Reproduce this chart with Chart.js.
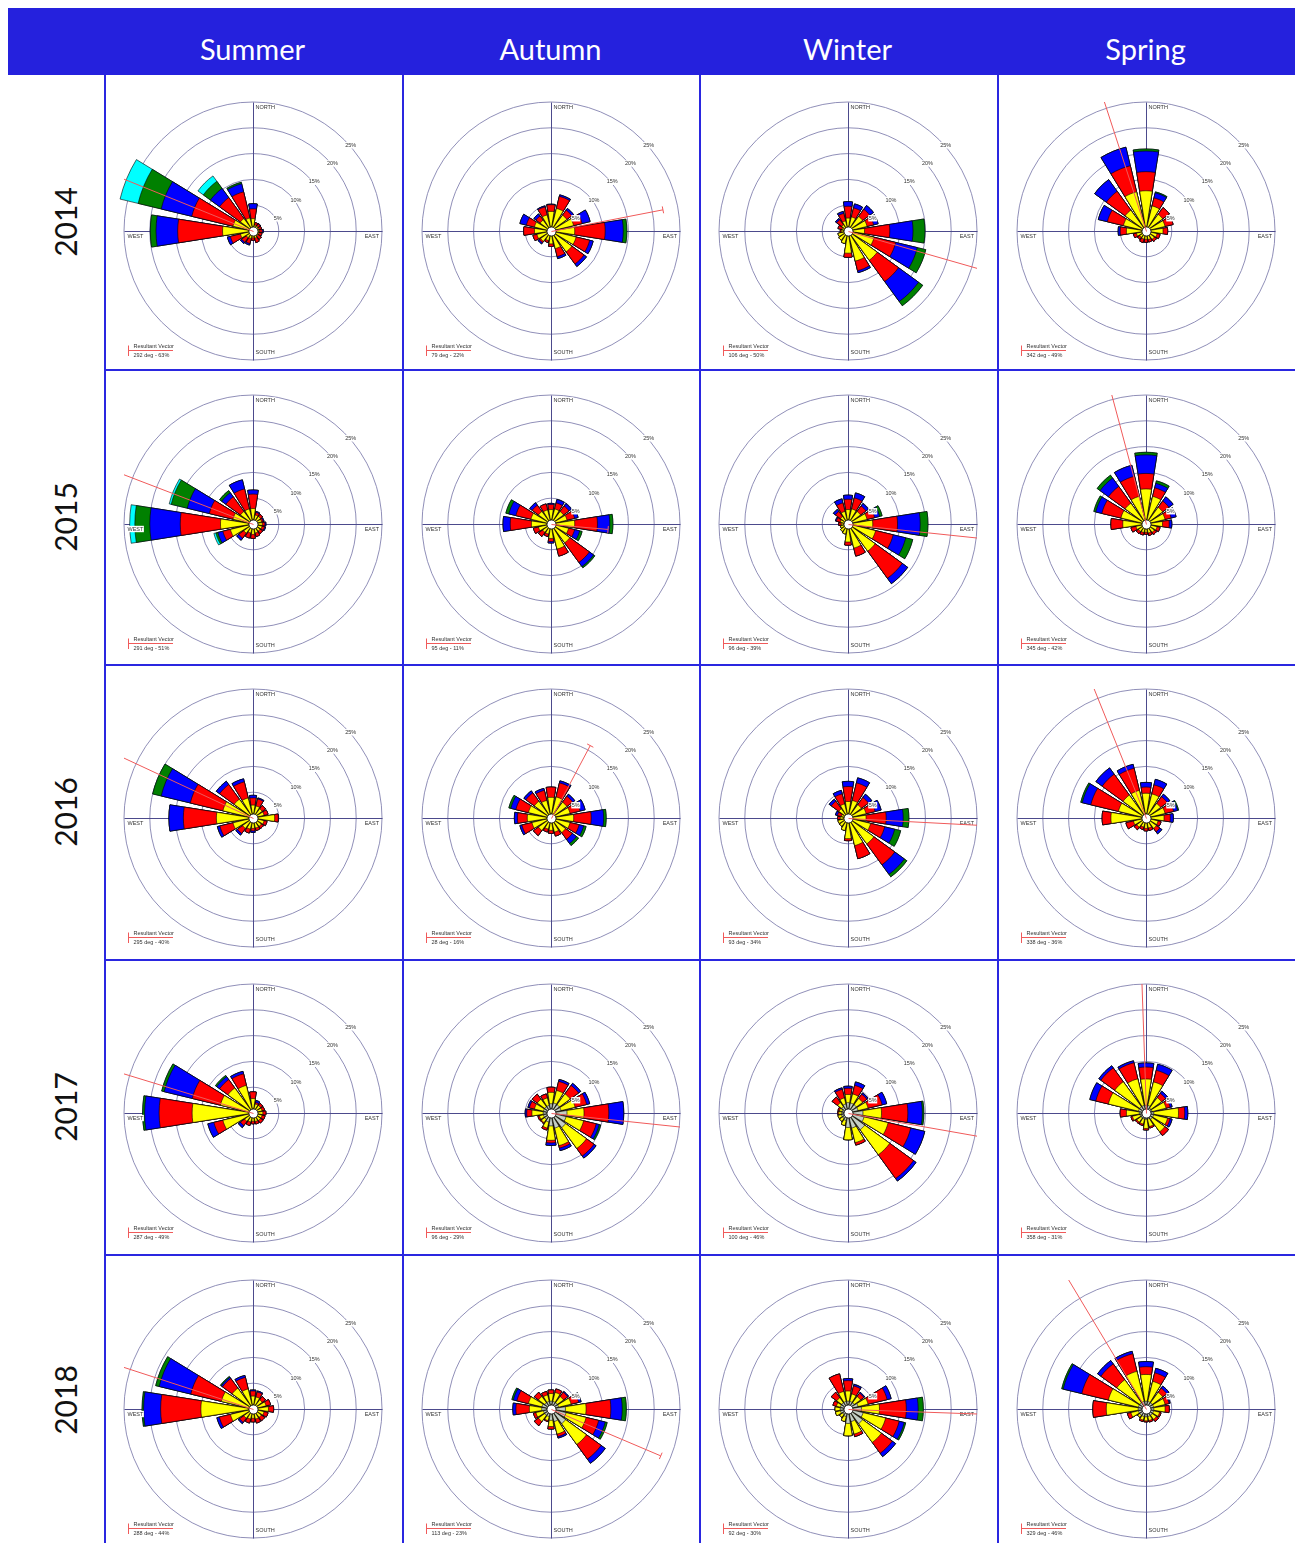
<!DOCTYPE html>
<html>
<head>
<meta charset="utf-8">
<script src="https://cdn.jsdelivr.net/npm/chart.js@4.4.1/dist/chart.umd.min.js"></script>
<style>
  body { margin: 0; background: #fff; width: 1295px; height: 1543px; overflow: hidden; position: relative; }
  .hdr { position: absolute; left: 8px; top: 8px; width: 1287px; height: 67px; background: #2521dd; }
  .season { position: absolute; top: 8px; height: 67px; line-height: 82px; width: 297px; text-align: center;
            color: #fff; font-family: Lato, "Open Sans", sans-serif; font-size: 29px; }
  .year { position: absolute; left: 15px; width: 100px; height: 40px; line-height: 40px; text-align: center;
          font-family: Lato, "Open Sans", sans-serif; font-size: 30px; color: #111; transform: rotate(-90deg); }
  .vline { position: absolute; width: 2px; background: #2a27e0; z-index: 5; }
  .hline { position: absolute; height: 2px; background: #2a27e0; z-index: 5; }
  canvas { position: absolute; }
</style>
</head>
<body>
<div class="hdr"></div>
<script>
const seasons = ["Summer", "Autumn", "Winter", "Spring"];
const years = ["2014", "2015", "2016", "2017", "2018"];
const directions = ["N", "NNE", "NE", "ENE", "E", "ESE", "SE", "SSE", "S", "SSW", "SW", "WSW", "W", "WNW", "NW", "NNW"];
const speedClasses = ["class 1", "class 2", "class 3", "class 4", "class 5", "class 6"];
const classColors = ["#c4cec4", "#ffff00", "#ff0000", "#0000ff", "#008000", "#00ffff"];

// frequency (%) by speed class (rows) and direction (columns)
const summer2014 = [
  [0, 0, 0, 0, 0, 0, 0, 0, 0, 0, 0, 0, 0, 0, 0, 0],
  [2.4, 1.2, 1.2, 1.2, 1.2, 1.2, 1.2, 1.4, 1.3, 1.5, 1.6, 2.5, 5.9, 4.0, 3.0, 2.6],
  [1.9, 0.5, 0.5, 0.5, 0.6, 0.6, 0.8, 0.9, 0.5, 1.0, 1.1, 2.0, 8.7, 8.2, 5.0, 5.2],
  [1.0, 0, 0.1, 0, 0.2, 0, 0, 0, 0, 0.3, 0.3, 0.6, 4.2, 6.1, 2.2, 1.6],
  [0, 0, 0, 0, 0, 0, 0, 0, 0, 0, 0, 0, 1.1, 4.6, 1.7, 0.3],
  [0, 0, 0, 0, 0, 0, 0, 0, 0, 0, 0, 0, 0, 3.6, 1.3, 0]
];
const autumn2014 = [
  [0, 0, 0, 0, 0, 0, 0, 0, 0, 0, 0, 0, 0, 0, 0, 0],
  [3.8, 4.5, 3.8, 4.5, 4.6, 5.0, 5.0, 3.5, 2.5, 1.9, 2.5, 2.8, 3.2, 3.3, 2.6, 3.2],
  [1.3, 2.4, 1.2, 1.7, 5.9, 2.7, 2.9, 1.6, 0.5, 0.4, 0.3, 0.8, 2.1, 1.6, 1.0, 1.6],
  [0.1, 0.3, 0.4, 1.6, 3.5, 0.7, 0.6, 0.4, 0, 0, 0.3, 0, 0, 1.3, 0.5, 0.2],
  [0, 0, 0, 0, 0.7, 0, 0, 0, 0, 0, 0, 0, 0, 0, 0, 0],
  [0, 0, 0, 0, 0, 0, 0, 0, 0, 0, 0, 0, 0, 0, 0, 0]
];
const winter2014 = [
  [0, 0, 0, 0, 0, 0, 0, 0, 0, 0, 0, 0, 0, 0, 0, 0],
  [2.5, 2.8, 3.5, 3.8, 3.2, 5.2, 7.0, 6.0, 4.3, 2.5, 2.2, 2.0, 1.3, 1.2, 1.5, 2.0],
  [2.3, 1.8, 1.7, 1.3, 4.9, 4.3, 5.1, 1.9, 0.8, 0, 0, 0, 0.2, 0.8, 1.2, 1.5],
  [0.9, 0.8, 0.9, 0.9, 4.5, 4.3, 4.8, 0.4, 0, 0, 0, 0, 0, 0, 0.3, 0.4],
  [0, 0, 0, 0, 2.3, 1.7, 1.0, 0, 0, 0, 0, 0, 0, 0, 0, 0],
  [0, 0, 0, 0, 0, 0, 0, 0, 0, 0, 0, 0, 0, 0, 0, 0]
];
const spring2014 = [
  [0, 0, 0, 0, 0, 0, 0, 0, 0, 0, 0, 0, 0, 0, 0, 0],
  [7.8, 5.0, 4.0, 3.8, 3.3, 2.2, 2.0, 1.7, 1.6, 1.6, 1.5, 1.9, 3.8, 4.5, 5.0, 7.8],
  [3.7, 1.6, 1.6, 1.6, 0.9, 0.6, 0.5, 0.5, 0.6, 0.7, 0.5, 0.6, 1.2, 3.2, 4.5, 5.2],
  [4.0, 1.0, 0, 0, 0, 0, 0, 0, 0, 0, 0, 0, 0.4, 1.8, 2.8, 3.7],
  [0.4, 0.2, 0, 0, 0, 0, 0, 0, 0, 0, 0, 0, 0, 0, 0, 0],
  [0, 0, 0, 0, 0, 0, 0, 0, 0, 0, 0, 0, 0, 0, 0, 0]
];
const summer2015 = [
  [0, 0, 0, 0, 0, 0, 0, 0, 0, 0, 0, 0, 0, 0, 0, 0],
  [3.0, 1.8, 1.8, 1.7, 1.8, 1.8, 1.7, 1.8, 2.0, 1.8, 2.2, 4.5, 6.3, 4.0, 3.0, 3.0],
  [2.8, 0.5, 0.5, 0.3, 0.5, 0.5, 0.6, 0.7, 0.8, 1.0, 1.2, 1.5, 7.8, 4.7, 3.5, 4.0],
  [0.8, 0.2, 0, 0.2, 0.2, 0.2, 0, 0, 0, 0, 0.5, 1.0, 5.9, 4.4, 1.0, 1.8],
  [0, 0, 0, 0, 0, 0, 0, 0, 0, 0, 0, 0.4, 2.9, 3.2, 0.5, 0],
  [0, 0, 0, 0, 0, 0, 0, 0, 0, 0, 0, 0.4, 1.0, 0.4, 0, 0]
];
const autumn2015 = [
  [0, 0, 0, 0, 0, 0, 0, 0, 0, 0, 0, 0, 0, 0, 0, 0],
  [2.8, 3.0, 3.0, 3.2, 4.6, 3.5, 4.5, 5.0, 2.8, 2.0, 2.0, 2.5, 3.8, 4.0, 3.0, 2.8],
  [1.0, 1.2, 1.3, 1.5, 4.4, 1.2, 4.7, 1.4, 0.6, 0.5, 1.0, 1.0, 4.1, 3.0, 1.5, 1.2],
  [0.2, 0.7, 0.6, 0.7, 2.4, 1.0, 1.0, 0, 0.3, 0, 0, 0, 1.4, 1.4, 0.6, 0],
  [0, 0, 0, 0, 0.6, 0.5, 0.3, 0, 0, 0, 0, 0, 0, 0.6, 0, 0],
  [0, 0, 0, 0, 0, 0, 0, 0, 0, 0, 0, 0, 0, 0, 0, 0]
];
const winter2015 = [
  [0, 0, 0, 0, 0, 0, 0, 0, 0, 0, 0, 0, 0, 0, 0, 0],
  [2.8, 3.0, 3.0, 3.8, 4.8, 5.5, 6.5, 4.8, 3.5, 2.0, 1.8, 1.5, 1.3, 1.5, 1.8, 2.5],
  [2.0, 2.2, 1.3, 1.5, 4.8, 3.5, 6.5, 1.6, 0.6, 0, 0, 0, 0.5, 0.8, 1.2, 1.7],
  [0.8, 1.0, 0.6, 1.0, 4.4, 2.5, 1.3, 0, 0, 0, 0, 0, 0, 0.2, 0.5, 0.8],
  [0, 0, 0, 0.5, 1.5, 1.4, 0, 0, 0, 0, 0, 0, 0, 0, 0, 0],
  [0, 0, 0, 0, 0, 0, 0, 0, 0, 0, 0, 0, 0, 0, 0, 0]
];
const spring2015 = [
  [0, 0, 0, 0, 0, 0, 0, 0, 0, 0, 0, 0, 0, 0, 0, 0],
  [6.8, 5.5, 4.0, 3.8, 3.2, 2.2, 2.0, 1.8, 1.6, 1.7, 1.8, 2.0, 4.5, 5.0, 5.0, 5.5],
  [3.0, 1.7, 1.5, 1.2, 1.3, 0.6, 0.5, 0.5, 0.4, 0.5, 0.5, 1.0, 2.3, 3.8, 4.0, 4.0],
  [3.6, 0.9, 1.0, 1.0, 0.5, 0, 0, 0, 0, 0, 0, 0, 0, 1.2, 2.0, 2.2],
  [0.5, 0.5, 0, 0, 0, 0, 0, 0, 0, 0, 0, 0, 0, 0.4, 0.7, 0],
  [0, 0, 0, 0, 0, 0, 0, 0, 0, 0, 0, 0, 0, 0, 0, 0]
];
const summer2016 = [
  [0, 0, 0, 0, 0, 0, 0, 0, 0, 0, 0, 0, 0, 0, 0, 0],
  [2.5, 2.4, 2.2, 2.2, 4.2, 2.2, 2.0, 2.0, 2.0, 2.2, 2.5, 4.0, 7.1, 6.0, 4.5, 4.0],
  [1.4, 1.4, 0.8, 0.8, 0.7, 0.6, 0.5, 0.5, 0.5, 0.8, 1.2, 2.6, 6.4, 6.5, 3.5, 3.2],
  [0.5, 0.2, 0, 0, 0, 0, 0, 0, 0.3, 0, 0.4, 0.5, 2.8, 5.8, 0.8, 0.6],
  [0, 0, 0, 0, 0, 0, 0, 0, 0, 0, 0, 0, 0, 1.7, 0, 0],
  [0, 0, 0, 0, 0, 0, 0, 0, 0, 0, 0, 0, 0, 0, 0, 0]
];
const autumn2016 = [
  [0, 0, 0, 0, 0, 0, 0, 0, 0, 0, 0, 0, 0, 0, 0, 0],
  [4.0, 4.2, 3.8, 3.8, 4.4, 3.8, 3.5, 2.8, 2.4, 2.2, 3.0, 3.8, 4.6, 4.5, 4.0, 3.5],
  [2.0, 2.8, 1.4, 2.0, 3.4, 1.8, 1.6, 0.8, 0.6, 0.6, 1.2, 2.0, 1.9, 2.5, 2.0, 2.0],
  [0, 0.4, 0.5, 1.0, 2.4, 0.9, 1.0, 0, 0, 0, 0, 0.4, 0.6, 1.0, 0.5, 0.4],
  [0, 0, 0, 0, 0.5, 0.5, 0.5, 0, 0, 0, 0, 0, 0, 0.4, 0, 0],
  [0, 0, 0, 0, 0, 0, 0, 0, 0, 0, 0, 0, 0, 0, 0, 0]
];
const winter2016 = [
  [0, 0, 0, 0, 0, 0, 0, 0, 0, 0, 0, 0, 0, 0, 0, 0],
  [3.2, 3.5, 3.2, 3.6, 3.5, 4.5, 6.2, 5.5, 4.0, 2.5, 2.0, 2.0, 1.5, 1.3, 2.2, 2.8],
  [2.9, 3.5, 1.7, 1.8, 3.9, 2.8, 5.0, 2.6, 0.4, 0, 0, 0, 0.5, 0.8, 1.8, 2.0],
  [1.0, 1.0, 0.8, 1.2, 3.3, 2.0, 2.3, 0, 0, 0, 0, 0, 0, 0.4, 0.5, 0.7],
  [0, 0, 0, 0, 1.1, 1.2, 0.6, 0, 0, 0, 0, 0, 0, 0, 0, 0],
  [0, 0, 0, 0, 0, 0, 0, 0, 0, 0, 0, 0, 0, 0, 0, 0]
];
const spring2016 = [
  [0, 0, 0, 0, 0, 0, 0, 0, 0, 0, 0, 0, 0, 0, 0, 0],
  [4.8, 4.8, 3.5, 3.8, 3.5, 2.4, 2.5, 2.0, 2.0, 1.8, 2.2, 2.5, 6.8, 5.5, 5.5, 5.5],
  [1.2, 1.8, 1.6, 1.7, 1.2, 0.6, 0.8, 0.5, 0.5, 0.5, 0.6, 1.5, 1.7, 5.5, 5.0, 4.4],
  [0.9, 1.1, 0.6, 0.8, 0.6, 0, 0.5, 0, 0, 0, 0, 0, 0, 1.7, 1.5, 0.8],
  [0, 0, 0, 0.2, 0, 0, 0, 0, 0, 0, 0, 0, 0, 0.3, 0, 0],
  [0, 0, 0, 0, 0, 0, 0, 0, 0, 0, 0, 0, 0, 0, 0, 0]
];
const summer2017 = [
  [0, 0, 0, 0, 0, 0, 0, 0, 0, 0, 0, 0, 0, 0, 0, 0],
  [2.8, 1.8, 1.8, 1.8, 1.9, 1.8, 1.8, 1.7, 1.6, 1.8, 2.0, 6.0, 11.8, 6.5, 6.0, 5.5],
  [1.3, 0.3, 0.5, 0.5, 0.6, 0.6, 0.6, 0.5, 0.5, 0.7, 1.0, 1.8, 6.4, 5.6, 2.0, 2.3],
  [0, 0.4, 0, 0, 0, 0, 0, 0, 0, 0, 0.5, 1.2, 2.8, 5.6, 0.7, 0.5],
  [0, 0, 0, 0, 0, 0, 0, 0, 0, 0, 0, 0, 0.4, 0.5, 0.3, 0],
  [0, 0, 0, 0, 0, 0, 0, 0, 0, 0, 0, 0, 0, 0, 0, 0]
];
const autumn2017 = [
  [1.8, 2.0, 2.0, 2.0, 3.1, 3.0, 3.5, 3.0, 2.5, 1.8, 1.5, 1.5, 1.5, 1.5, 1.5, 1.5],
  [2.2, 2.5, 2.6, 2.8, 3.3, 3.5, 5.0, 3.5, 2.8, 1.2, 0.8, 0.8, 2.2, 1.8, 1.8, 1.5],
  [1.0, 1.8, 2.0, 2.3, 4.8, 2.5, 1.8, 0.5, 0.5, 0.4, 0.2, 0.3, 1.0, 1.0, 1.2, 0.8],
  [0, 0.4, 0.5, 0.6, 2.9, 0.6, 0.5, 0.5, 0.5, 0, 0, 0, 0.3, 0.3, 0, 0],
  [0, 0, 0, 0, 0, 0.3, 0, 0, 0, 0, 0, 0, 0, 0, 0, 0],
  [0, 0, 0, 0, 0, 0, 0, 0, 0, 0, 0, 0, 0, 0, 0, 0]
];
const winter2017 = [
  [2.0, 2.0, 2.0, 2.0, 2.9, 3.2, 4.0, 3.0, 2.8, 1.5, 1.3, 1.3, 1.2, 1.2, 1.5, 1.8],
  [1.6, 1.8, 1.5, 2.0, 3.6, 4.8, 6.0, 2.9, 2.4, 1.0, 0.7, 0.7, 0.6, 0.5, 1.0, 1.2],
  [1.2, 1.7, 1.0, 2.8, 5.1, 4.5, 5.7, 0.5, 0, 0, 0, 0, 0.2, 0.3, 1.3, 1.7],
  [0.4, 0.7, 0.3, 0.9, 2.8, 2.8, 0.6, 0, 0, 0, 0, 0, 0, 0, 0, 0.3],
  [0, 0, 0, 0, 0.3, 0, 0, 0, 0, 0, 0, 0, 0, 0, 0, 0],
  [0, 0, 0, 0, 0, 0, 0, 0, 0, 0, 0, 0, 0, 0, 0, 0]
];
const spring2017 = [
  [1.5, 1.5, 1.2, 1.2, 1.5, 1.5, 1.5, 1.2, 1.2, 1.2, 1.2, 1.2, 1.3, 1.5, 1.5, 1.5],
  [5.1, 4.7, 2.5, 2.8, 4.8, 2.8, 3.0, 1.5, 1.8, 1.0, 1.0, 1.5, 2.5, 6.0, 6.0, 5.3],
  [2.3, 2.3, 1.0, 0.8, 1.2, 0.5, 0.9, 0.3, 0.3, 0.3, 0.3, 0.3, 1.2, 2.5, 3.3, 3.2],
  [0.8, 1.2, 0.5, 0.4, 0.6, 0.4, 0, 0, 0, 0, 0, 0, 0, 1.2, 0.5, 0.4],
  [0, 0, 0, 0, 0, 0, 0, 0, 0, 0, 0, 0, 0, 0, 0, 0],
  [0, 0, 0, 0, 0, 0, 0, 0, 0, 0, 0, 0, 0, 0, 0, 0]
];
const summer2018 = [
  [0, 0, 0, 0, 0, 0, 0, 0, 0, 0, 0, 0, 0, 0, 0, 0],
  [2.5, 2.4, 2.2, 2.6, 3.0, 2.2, 2.0, 2.0, 1.8, 2.0, 2.2, 4.5, 10.1, 6.3, 5.0, 4.0],
  [1.0, 1.0, 0.8, 0.9, 1.0, 0.8, 0.8, 0.8, 0.7, 0.8, 1.0, 2.2, 7.8, 6.1, 2.3, 2.3],
  [0.2, 0.2, 0, 0, 0, 0, 0, 0, 0, 0, 0.3, 0.5, 3.3, 6.3, 0.3, 0.4],
  [0, 0, 0, 0, 0, 0, 0, 0, 0, 0, 0, 0, 0.3, 0.7, 0.2, 0],
  [0, 0, 0, 0, 0, 0, 0, 0, 0, 0, 0, 0, 0, 0, 0, 0]
];
const autumn2018 = [
  [1.5, 1.5, 1.5, 1.5, 2.8, 3.0, 3.5, 2.5, 2.2, 1.5, 1.5, 1.5, 1.8, 1.8, 1.5, 1.5],
  [1.5, 1.8, 1.5, 2.5, 4.0, 4.0, 5.0, 2.5, 1.2, 0.8, 1.5, 1.5, 2.4, 2.7, 1.5, 1.3],
  [0.7, 0.7, 1.0, 1.5, 4.8, 2.5, 3.5, 0.5, 0.5, 0.2, 1.0, 0.5, 2.6, 2.3, 1.0, 0.7],
  [0, 0, 0.2, 0.5, 2.2, 1.3, 1.0, 0.3, 0, 0, 0, 0, 0.6, 0.7, 0, 0],
  [0, 0, 0, 0, 0.8, 0.4, 0, 0, 0, 0, 0, 0, 0, 0.3, 0, 0],
  [0, 0, 0, 0, 0, 0, 0, 0, 0, 0, 0, 0, 0, 0, 0, 0]
];
const winter2018 = [
  [1.5, 1.5, 1.5, 2.0, 2.6, 3.0, 3.5, 2.5, 2.8, 1.5, 1.3, 1.5, 1.5, 1.5, 1.5, 1.5],
  [2.0, 1.5, 1.5, 2.0, 3.5, 4.5, 4.5, 2.5, 2.4, 1.0, 0.7, 1.0, 1.0, 0.8, 1.2, 2.0],
  [2.0, 1.6, 0.8, 3.8, 5.2, 2.7, 2.6, 0.5, 0, 0, 0, 0, 0, 0.7, 1.3, 3.5],
  [0.4, 0.3, 0.2, 0.8, 2.3, 1.0, 0.8, 0, 0, 0, 0, 0, 0, 0, 0, 0],
  [0, 0, 0, 0, 1.0, 0.3, 0, 0, 0, 0, 0, 0, 0, 0, 0, 0],
  [0, 0, 0, 0, 0, 0, 0, 0, 0, 0, 0, 0, 0, 0, 0, 0]
];
const spring2018 = [
  [1.5, 1.5, 1.5, 1.5, 1.5, 1.5, 1.5, 1.5, 1.5, 1.5, 1.5, 1.5, 1.5, 1.5, 1.5, 1.5],
  [5.2, 4.0, 2.5, 2.3, 2.2, 1.2, 1.0, 0.8, 0.8, 0.7, 0.5, 1.5, 6.2, 6.0, 5.5, 6.0],
  [1.5, 1.7, 1.0, 0.8, 0.8, 0.3, 0.5, 0.3, 0.2, 0.3, 0, 0.7, 2.6, 5.3, 3.8, 3.5],
  [1.0, 0.9, 0.5, 0.2, 0, 0, 0, 0, 0, 0, 0, 0, 0, 3.7, 0.8, 0.5],
  [0, 0, 0, 0, 0, 0, 0, 0, 0, 0, 0, 0, 0, 0.3, 0, 0],
  [0, 0, 0, 0, 0, 0, 0, 0, 0, 0, 0, 0, 0, 0, 0, 0]
];

// resultant vector per year (rows) and season (columns)
const resultantDeg = [[292, 79, 106, 342], [291, 95, 96, 345], [295, 28, 93, 338], [287, 96, 100, 358], [288, 113, 92, 329]];
const resultantPct = [[63, 22, 50, 49], [51, 11, 39, 42], [40, 16, 34, 36], [49, 29, 46, 31], [44, 23, 30, 46]];

const roses = [
  [summer2014, autumn2014, winter2014, spring2014],
  [summer2015, autumn2015, winter2015, spring2015],
  [summer2016, autumn2016, winter2016, spring2016],
  [summer2017, autumn2017, winter2017, spring2017],
  [summer2018, autumn2018, winter2018, spring2018]
];

const colLeft = [105, 403, 700, 998];
const rowTop = [77, 370, 664, 959, 1255];
const SMALL = '5.5px "Liberation Sans", Arial, sans-serif';

// page frame: header texts, year labels, blue grid lines
seasons.forEach((s, i) => {
  const d = document.createElement("div");
  d.className = "season";
  d.style.left = (colLeft[i] - 1) + "px";
  d.textContent = s;
  document.body.appendChild(d);
});
const rowMid = [222, 517, 812, 1107, 1400];
years.forEach((y, i) => {
  const d = document.createElement("div");
  d.className = "year";
  d.style.top = (rowMid[i] - 20) + "px";
  d.textContent = y;
  document.body.appendChild(d);
});
[104, 402, 699, 997].forEach((x) => {
  const d = document.createElement("div");
  d.className = "vline";
  d.style.left = x + "px"; d.style.top = "75px"; d.style.height = "1468px";
  document.body.appendChild(d);
});
[369, 664, 959, 1254].forEach((y) => {
  const d = document.createElement("div");
  d.className = "hline";
  d.style.top = y + "px"; d.style.left = "104px"; d.style.width = "1191px";
  document.body.appendChild(d);
});

function labelBox(ctx, text, x, y, align) {
  ctx.font = SMALL;
  const w = ctx.measureText(text).width;
  const left = align === "right" ? x - w : (align === "center" ? x - w / 2 : x);
  ctx.fillStyle = "#fff";
  ctx.fillRect(left - 0.5, y - 3.2, w + 1, 6.4);
  ctx.fillStyle = "#333";
  ctx.textAlign = align;
  ctx.textBaseline = "middle";
  ctx.fillText(text, x, y);
}

const rosePlugin = {
  id: "rose",
  beforeDatasetsDraw(chart) {
    const sc = chart.scales.r;
    const ctx = chart.ctx;
    const R = sc.drawingArea;
    const cx = sc.xCenter + 0.5, cy = sc.yCenter + 0.5;
    ctx.save();
    ctx.strokeStyle = "#4c4a8c";
    ctx.lineWidth = 1;
    ctx.beginPath();
    ctx.moveTo(cx, cy - R); ctx.lineTo(cx, cy + R);
    ctx.moveTo(cx - R, cy); ctx.lineTo(cx + R, cy);
    ctx.stroke();
    ctx.restore();
  },
  afterDatasetsDraw(chart, args, opts) {
    const sc = chart.scales.r;
    const ctx = chart.ctx;
    const R = sc.drawingArea;
    const cx = sc.xCenter + 0.5, cy = sc.yCenter + 0.5;
    const area = chart.chartArea;
    ctx.save();

    // calm circle
    ctx.beginPath();
    ctx.arc(cx, cy, 4.5, 0, Math.PI * 2);
    ctx.fillStyle = "#fff"; ctx.fill();
    ctx.strokeStyle = "#000"; ctx.lineWidth = 0.8; ctx.stroke();

    // ring labels
    [5, 10, 15, 20, 25].forEach((v) => {
      const d = sc.getDistanceFromCenterForValue(v);
      labelBox(ctx, v + "%", cx + d * Math.SQRT1_2 + 6, cy - d * Math.SQRT1_2 + 5, "center");
    });

    // compass labels
    labelBox(ctx, "NORTH", cx + 2, cy - R + 5, "left");
    labelBox(ctx, "SOUTH", cx + 2, cy + R - 8, "left");
    labelBox(ctx, "WEST", cx - R + 3, cy + 4.5, "left");
    labelBox(ctx, "EAST", cx + R - 3.5, cy + 4.5, "right");

    // resultant vector
    const th = opts.deg * Math.PI / 180;
    const len = sc.getDistanceFromCenterForValue(opts.pct);
    const ex = cx + len * Math.sin(th), ey = cy - len * Math.cos(th);
    ctx.save();
    ctx.beginPath();
    ctx.rect(area.left, area.top, area.right - area.left, area.bottom - area.top);
    ctx.clip();
    ctx.strokeStyle = "#f05a5a";
    ctx.lineWidth = 1;
    ctx.beginPath();
    ctx.moveTo(cx, cy); ctx.lineTo(ex, ey);
    ctx.moveTo(ex - 3.5 * Math.cos(th), ey - 3.5 * Math.sin(th));
    ctx.lineTo(ex + 3.5 * Math.cos(th), ey + 3.5 * Math.sin(th));
    ctx.stroke();
    ctx.restore();

    // legend
    ctx.font = SMALL;
    ctx.fillStyle = "#333";
    ctx.textAlign = "left";
    ctx.textBaseline = "middle";
    ctx.fillText("Resultant Vector", 28.5, 269);
    ctx.fillText(opts.deg + " deg - " + opts.pct + "%", 28.5, 278.5);
    ctx.strokeStyle = "#f05a5a";
    ctx.lineWidth = 1;
    ctx.beginPath();
    ctx.moveTo(23.5, 273.5); ctx.lineTo(68, 273.5);
    ctx.moveTo(23.5, 268.5); ctx.lineTo(23.5, 279);
    ctx.stroke();
    ctx.restore();
  }
};

function drawRose(canvas, table, deg, pct) {
  const labels = [];
  directions.forEach((d) => { labels.push(d); labels.push(""); });

  // cumulative totals so each speed class sits on top of the slower ones
  let running = directions.map(() => 0);
  const datasets = table.map((row, k) => {
    running = running.map((v, i) => v + row[i]);
    const data = [];
    running.forEach((v) => { data.push(Math.round(v * 100) / 100); data.push(0); });
    return {
      label: speedClasses[k],
      data: data,
      backgroundColor: classColors[k],
      borderColor: "#000",
      borderWidth: (c) => (c.dataIndex % 2 === 0 && c.raw > 0 ? 0.6 : 0),
      angle: (c) => (c.dataIndex % 2 === 0 ? 18 : 4.5)
    };
  });

  return new Chart(canvas.getContext("2d"), {
    type: "polarArea",
    data: { labels: labels, datasets: datasets },
    options: {
      responsive: false,
      animation: false,
      events: [],
      layout: { padding: { left: 19, right: 20, top: 25, bottom: 12 } },
      plugins: {
        legend: { display: false },
        tooltip: { enabled: false },
        rose: { deg: deg, pct: pct }
      },
      scales: {
        r: {
          min: 0,
          max: 25,
          startAngle: -9,
          ticks: { display: false, stepSize: 5 },
          grid: { color: "#7472a6", lineWidth: 0.8 },
          angleLines: { display: false },
          pointLabels: { display: false }
        }
      }
    },
    plugins: [rosePlugin]
  });
}

roses.forEach((row, yi) => {
  row.forEach((table, si) => {
    const c = document.createElement("canvas");
    c.width = 297; c.height = 295;
    c.style.left = colLeft[si] + "px";
    c.style.top = rowTop[yi] + "px";
    c.style.width = "297px"; c.style.height = "295px";
    document.body.appendChild(c);
    drawRose(c, table, resultantDeg[yi][si], resultantPct[yi][si]);
  });
});
</script>
</body>
</html>
